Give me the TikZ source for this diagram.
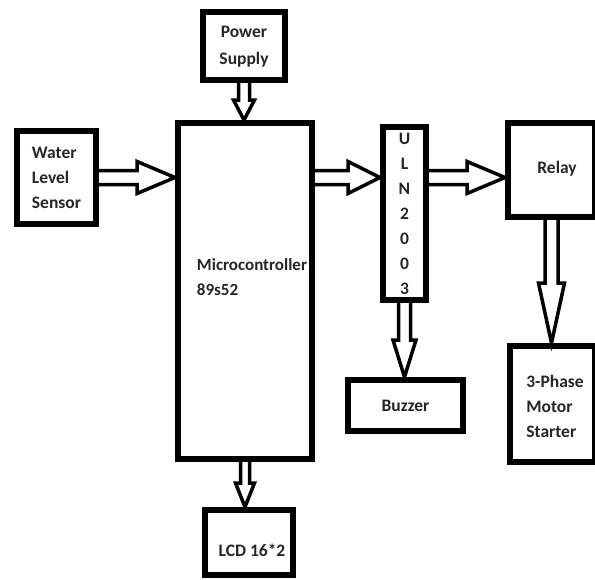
\documentclass[tikz,border=0pt]{standalone}
\usepackage{fontspec}
\setmainfont{Carlito}
\usetikzlibrary{calc}
\tikzset{
  blk/.style={draw=black, line width=6pt, inner sep=0pt, fill=white},
  txt/.style={inner sep=0pt, font=\fontsize{17.5}{25}\selectfont\bfseries, text=black!85},
  arr/.style={draw=black, line width=3.5pt, line join=miter, fill=white}
}
% horizontal block arrow: start, end, shaft half width, head half width, head length
\newcommand\myharrow[5]{%
  \draw[arr] ($(#1)+(0,-#3)$) -- ($(#2)+(-#5,-#3)$) -- ($(#2)+(-#5,-#4)$) -- (#2)
    -- ($(#2)+(-#5,#4)$) -- ($(#2)+(-#5,#3)$) -- ($(#1)+(0,#3)$);}
% vertical (downward) block arrow
\newcommand\myvarrow[5]{%
  \draw[arr] ($(#1)+(-#3,0)$) -- ($(#2)+(-#3,-#5)$) -- ($(#2)+(-#4,-#5)$) -- (#2)
    -- ($(#2)+(#4,-#5)$) -- ($(#2)+(#3,-#5)$) -- ($(#1)+(#3,0)$);}
\begin{document}
\begin{tikzpicture}[x=1pt,y=-1pt]
\useasboundingbox[fill=white] (0,0) rectangle (595,579);
% boxes
\node[blk, minimum width=82pt, minimum height=68pt] (ps) at (244,46) {};
\node[blk, minimum width=79pt, minimum height=93pt] (ws) at (56.5,177.5) {};
\node[blk, minimum width=134pt, minimum height=336pt] (mcu) at (245,291) {};
\node[blk, minimum width=88pt, minimum height=65pt] (lcd) at (249,542.5) {};
\node[blk, minimum width=43pt, minimum height=173pt] (uln) at (404.5,213.5) {};
\node[blk, minimum width=87pt, minimum height=94pt] (relay) at (551.5,170) {};
\node[blk, minimum width=115pt, minimum height=51pt] (buz) at (405.5,405.5) {};
\node[blk, minimum width=85pt, minimum height=116pt] (mot) at (552.5,404) {};
% texts
\node[txt, align=center, font=\fontsize{17.5}{27}\selectfont\bfseries] (pst) at (244,46.5) {Power\\Supply};
\node[txt, align=left] (wst) at (56.5,177.5) {Water\\Level\\Sensor};
\node[txt, align=left, font=\fontsize{17}{25}\selectfont\bfseries] (mcut) at (252,277) {Microcontroller\\89s52};
\node[txt] (lcdt) at (252,550) {LCD 16*2};
\node[txt, align=center] (ulnt) at (404.5,213.5) {U\\L\\N\\2\\0\\0\\3};
\node[txt] (relt) at (557,169) {Relay};
\node[txt] (buzt) at (405.5,406) {Buzzer};
\node[txt, align=left] (mott) at (555,406) {3-Phase\\Motor\\Starter};
% arrows
\myharrow{ws.east}{mcu.west |- ws.east}{7}{16}{38}
\myharrow{mcu.east |- ws.east}{uln.west |- ws.east}{7}{16}{32}
\myharrow{uln.east |- ws.east}{relay.west |- ws.east}{7}{16}{38}
\myvarrow{ps.south}{ps.south |- mcu.north}{5.5}{10.5}{20}
\myvarrow{relay.south}{relay.south |- mot.north}{6.5}{13}{60}
\myvarrow{uln.south}{uln.south |- buz.north}{6}{11.5}{37}
\myvarrow{mcu.south}{mcu.south |- lcd.north}{4.5}{9.5}{24}
\end{tikzpicture}
\end{document}
